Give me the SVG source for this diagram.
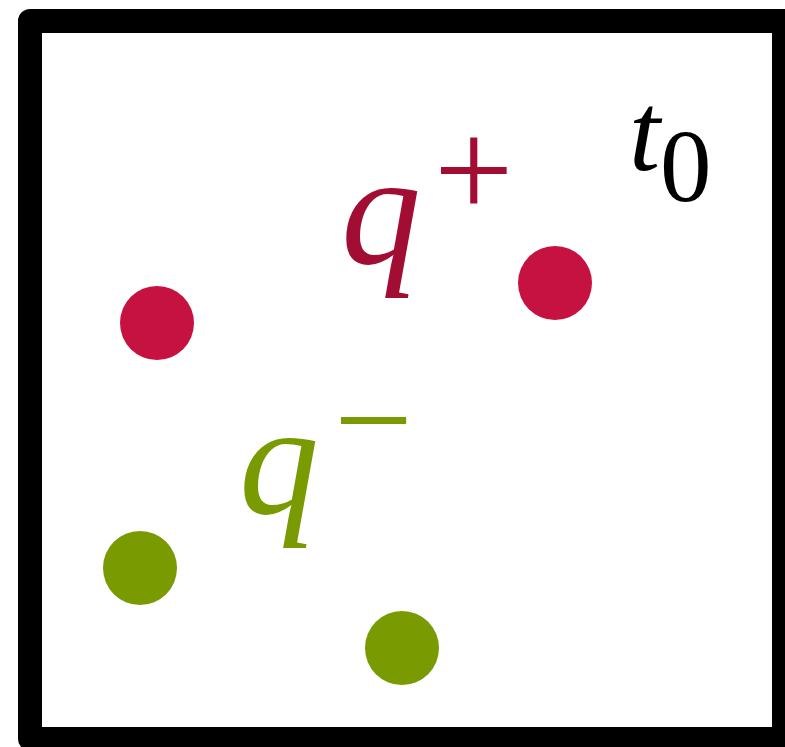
<svg xmlns="http://www.w3.org/2000/svg" width="785" height="747" viewBox="0 0 785 747">
<style>
.frame{fill:#fff;stroke:#000;stroke-width:24;stroke-linejoin:round}
text{font-family:'Liberation Serif','Times New Roman',serif}
.it{font-style:italic}
.red{fill:#c51241}
.redt{fill:#a10d33}
.green{fill:#7a9a01}
</style>
<rect width="785" height="747" fill="#fff"/>
<g id="frame"><rect class="frame" x="30" y="21" width="754" height="718"/></g>
<g id="label-t0">
<text class="it" x="629" y="170" font-size="112">t</text>
<text x="660" y="201" font-size="103">0</text>
</g>
<g id="label-qplus" class="redt">
<text class="it" x="341" y="264" font-size="160">q</text>
<text x="434" y="218" font-size="141">+</text>
</g>
<g id="label-qminus" class="green">
<text class="it" x="239" y="514" font-size="160">q</text>
<text x="334" y="467" font-size="140">−</text>
</g>
<g id="dot-red-1"><circle class="red" cx="157" cy="323" r="37"/></g>
<g id="dot-red-2"><circle class="red" cx="555" cy="283" r="37"/></g>
<g id="dot-green-1"><circle class="green" cx="140" cy="568" r="37"/></g>
<g id="dot-green-2"><circle class="green" cx="402" cy="648" r="37"/></g>
</svg>
